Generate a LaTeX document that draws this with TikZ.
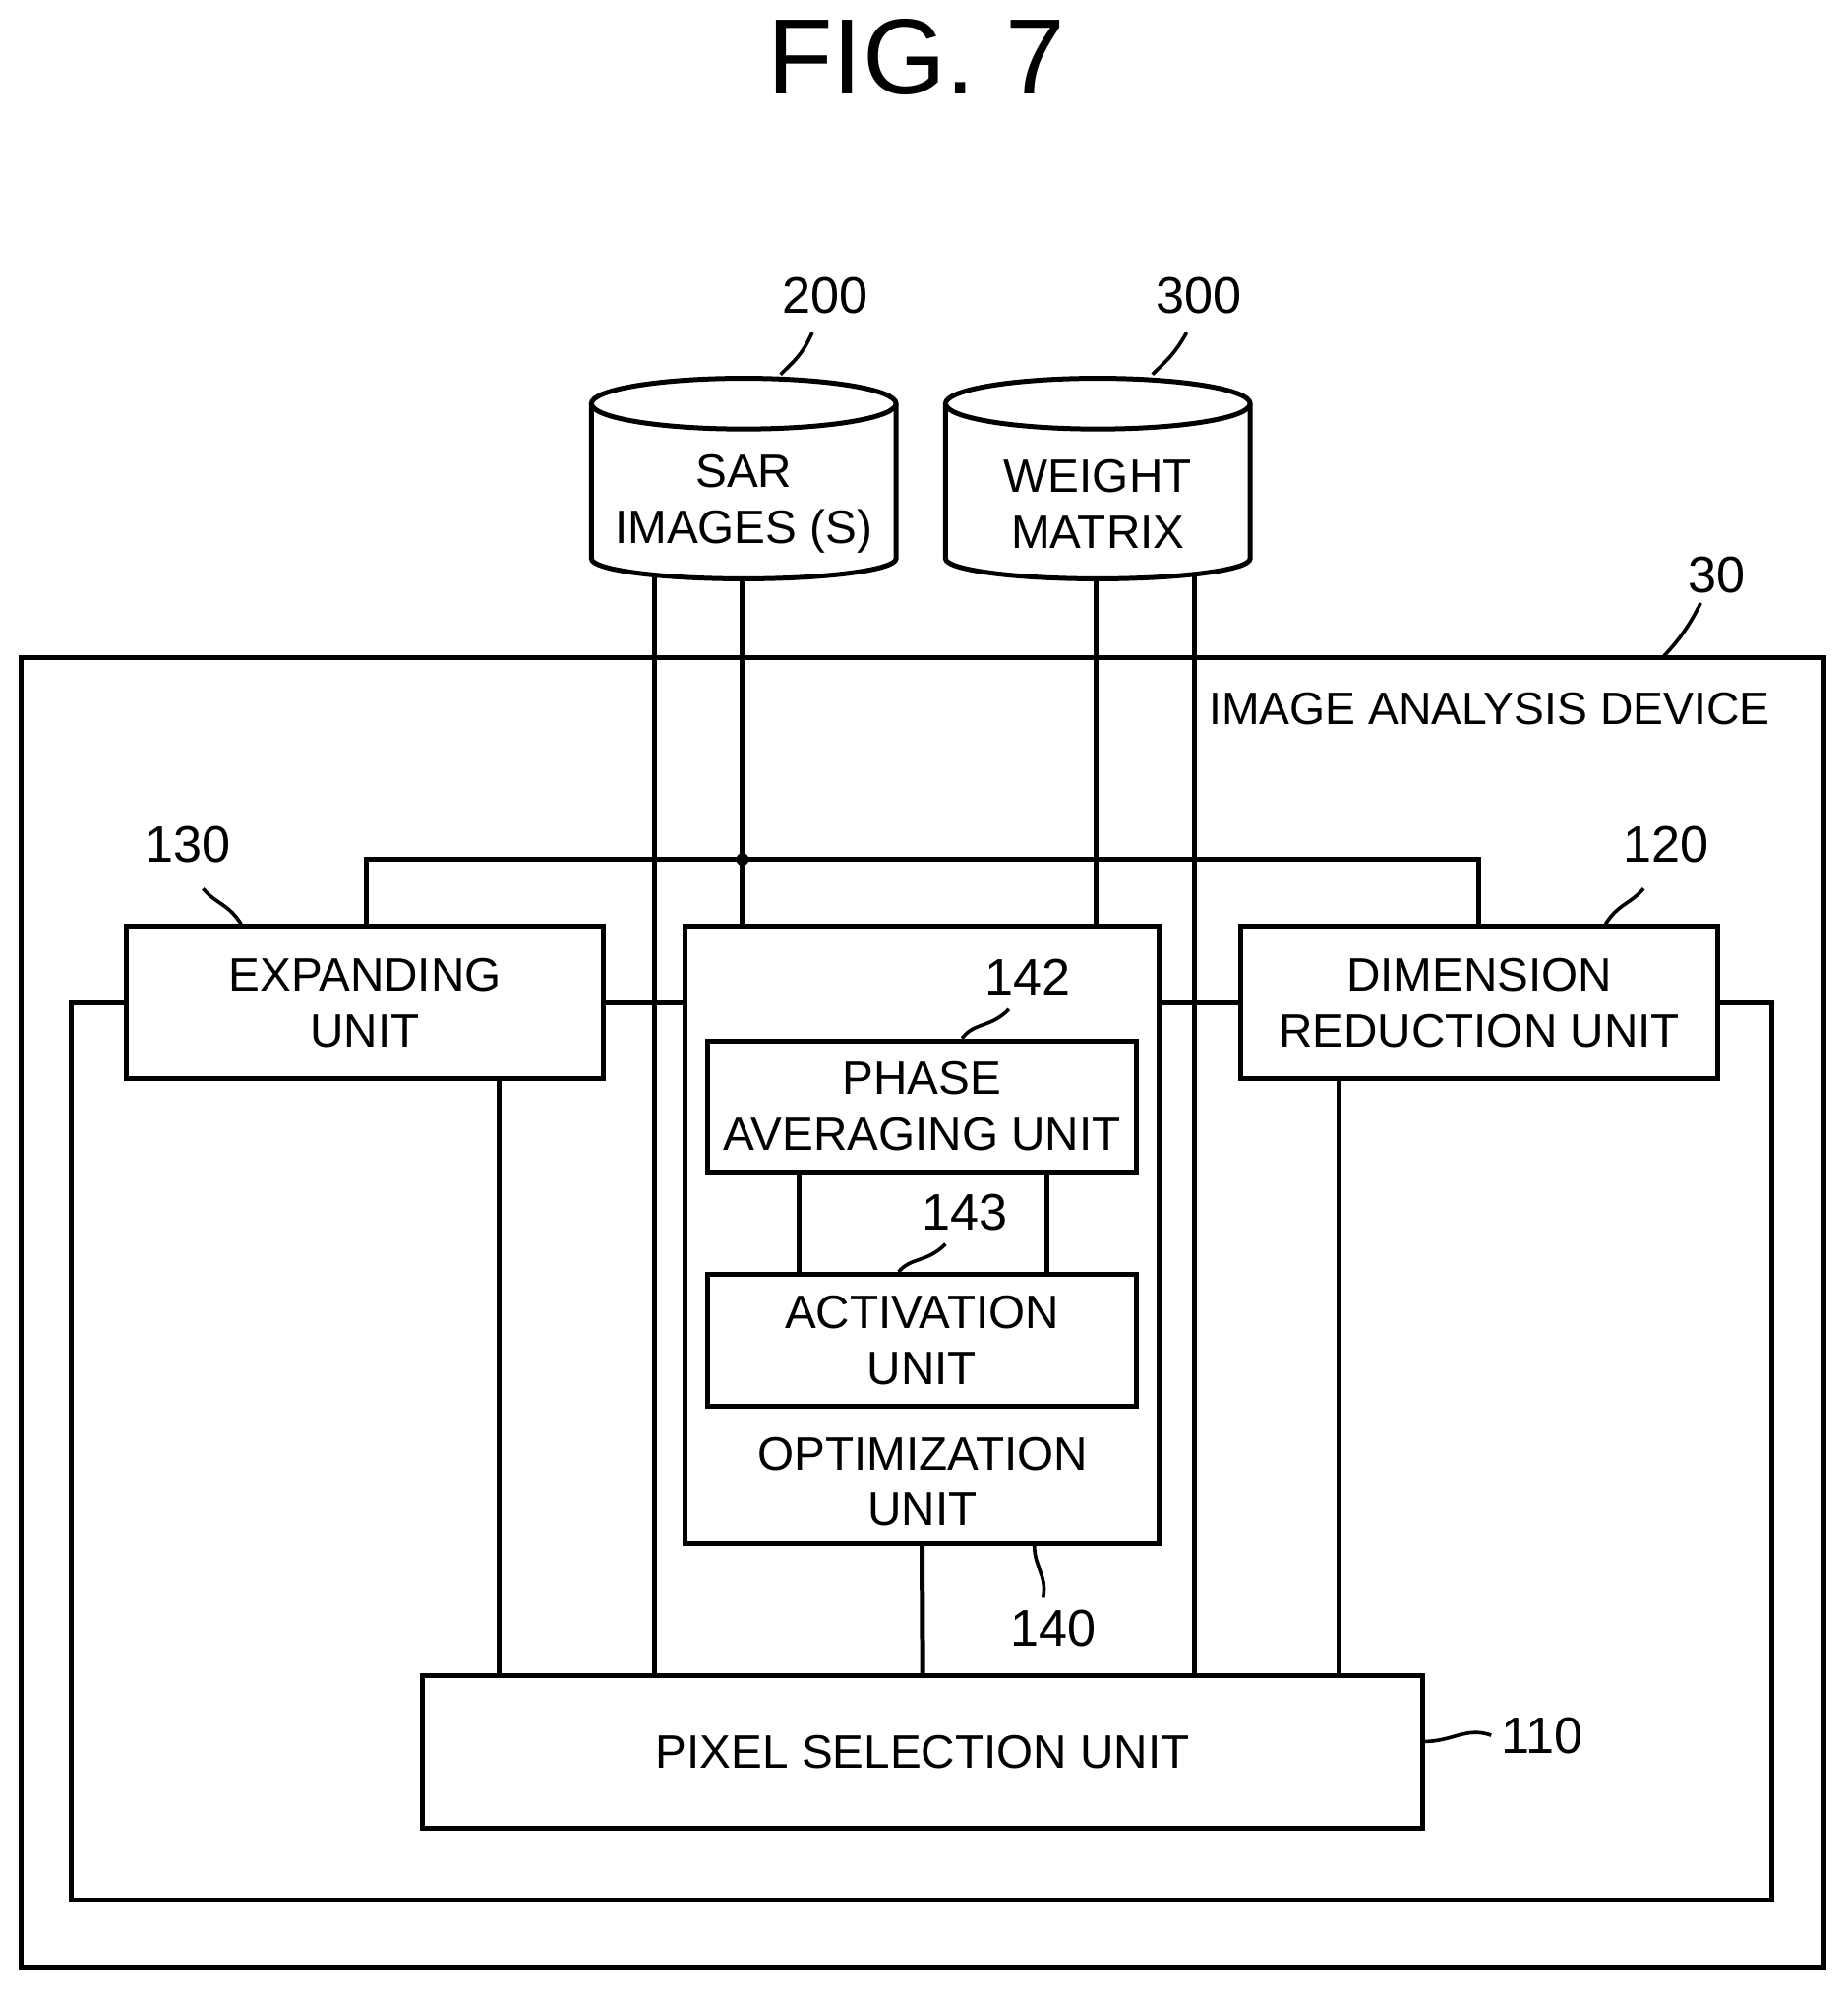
\documentclass[tikz,border=0pt]{standalone}
\usepackage{fontspec}
\setmainfont{Liberation Sans}
\begin{document}
\begin{tikzpicture}[x=0.01cm,y=-0.01cm,line width=1.1pt,
  box/.style={draw,fill=white,rectangle,inner sep=0pt,align=center,font=\fontsize{10.5}{12.5}\selectfont},
  lbl/.style={font=\fontsize{11.5}{13}\selectfont},
  txt/.style={align=center,font=\fontsize{10.5}{12.5}\selectfont}]
\useasboundingbox (0,0) rectangle (1456,1570);
\node[font=\fontsize{24}{28}\selectfont] (fig) at (722,45) {FIG. 7};
% outer device
\draw (17,518) rectangle (1437,1550);
\node[txt,anchor=east,font=\fontsize{10.2}{12}\selectfont] (iad) at (1408,558) {IMAGE ANALYSIS DEVICE};
\node[lbl] (l30) at (1353,453) {30};
\coordinate (c30) at (1310,518);
\draw[line width=0.8pt] (c30) .. controls (1322,505) and (1330,495) .. (1340,475);
% loop
\draw (56,790) rectangle (1396,1497);
% cylinders
\draw[fill=white] (466,318) -- (466,440) arc[start angle=180,end angle=0,x radius=120,y radius=16] -- (706,318);
\draw[fill=white] (586,318) ellipse[x radius=120,y radius=20];
\node[txt] (sar) at (586,397) {SAR\\IMAGES (S)};
\draw[fill=white] (745,318) -- (745,440) arc[start angle=180,end angle=0,x radius=120,y radius=16] -- (985,318);
\draw[fill=white] (865,318) ellipse[x radius=120,y radius=20];
\node[txt] (wm) at (865,397) {WEIGHT\\MATRIX};
\node[lbl] (l200) at (650,233) {200};
\node[lbl] (l300) at (945,233) {300};
\draw[line width=0.8pt] (615,295) .. controls (625,285) and (632,280) .. (640,262);
\draw[line width=0.8pt] (908,295) .. controls (918,285) and (925,280) .. (935,262);
% boxes
\node[box,minimum width=3.75cm,minimum height=1.2cm] (exp) at (287.5,790) {EXPANDING\\UNIT};
\node[box,minimum width=3.75cm,minimum height=1.2cm] (dim) at (1165.5,790) {DIMENSION\\REDUCTION UNIT};
\node[box,minimum width=3.73cm,minimum height=4.86cm] (opt) at (726.5,973) {};
\node[txt] (optt) at (727,1167) {OPTIMIZATION\\UNIT};
\node[box,minimum width=3.37cm,minimum height=1.03cm] (pha) at (726.5,871.5) {PHASE\\AVERAGING UNIT};
\node[box,minimum width=3.37cm,minimum height=1.04cm] (act) at (726.5,1056) {ACTIVATION\\UNIT};
\node[box,minimum width=7.88cm,minimum height=1.2cm] (pix) at (727,1380) {PIXEL SELECTION UNIT};
% labels
\node[lbl] (l130) at (148,665) {130};
\draw[line width=0.8pt] (190,728) .. controls (180,712) and (170,712) .. (160,700);
\node[lbl] (l120) at (1313,665) {120};
\draw[line width=0.8pt] (1265,728) .. controls (1275,712) and (1285,712) .. (1295,700);
\node[lbl] (l142) at (810,770) {142};
\draw[line width=0.8pt] (758,818) .. controls (768,805) and (780,810) .. (795,795);
\node[lbl] (l143) at (760,955) {143};
\draw[line width=0.8pt] (708,1002) .. controls (718,990) and (730,995) .. (745,980);
\node[lbl] (l140) at (830,1283) {140};
\draw[line width=0.8pt] (815,1218) .. controls (815,1235) and (825,1240) .. (822,1258);
\node[lbl] (l110) at (1215,1367) {110};
\draw[line width=0.8pt] (1121,1372) .. controls (1145,1372) and (1155,1360) .. (1175,1367);
% connectors
\coordinate (dot) at (585,677);
\fill (dot) circle (5);
\draw (585,456) -- (dot) -- (585,730);
\draw (289,730) -- (289,677) -- (1165,677) -- (1165,730);
\draw (516,453) -- (516,1320);
\draw (864,456) -- (864,730);
\draw (941,453) -- (941,1320);
\draw (393,850) -- (393,1320);
\draw (1055,850) -- (1055,1320);
\draw (opt.south) -- (pix.north);
\draw (630,923) -- (630,1004);
\draw (825,923) -- (825,1004);
\draw (exp.east) -- (opt.west |- exp.east);
\draw (opt.east |- dim.west) -- (dim.west);
\end{tikzpicture}
\end{document}
